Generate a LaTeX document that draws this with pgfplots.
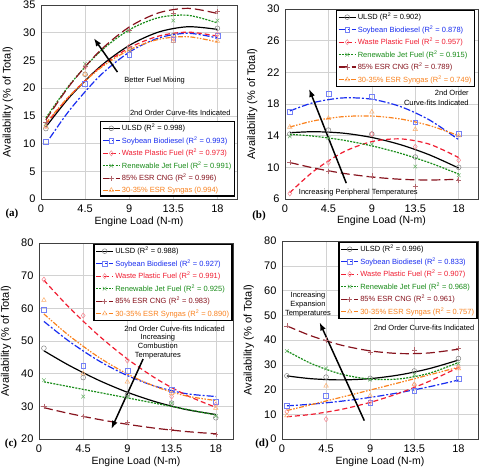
\documentclass[border=0pt]{standalone}
\usepackage{fontspec}
\setmainfont{Liberation Sans}
\newfontfamily\serifb{Liberation Serif}
\usepackage{pgfplots}
\pgfplotsset{compat=1.18}
\usetikzlibrary{arrows.meta}
\definecolor{cBlue}{RGB}{25,45,240}
\definecolor{cRed}{RGB}{240,30,50}
\definecolor{cGreen}{RGB}{25,140,25}
\definecolor{cDark}{RGB}{135,20,30}
\definecolor{cOrange}{RGB}{250,130,30}
\newcommand\both[2]{\tikzset{#1/.style={#2}}\pgfplotsset{#1/.style={#2}}}
\both{s1}{black, line width=1.2pt, solid}
\both{s2}{cBlue, line width=1.2pt, dash pattern=on 7pt off 2pt on 2pt off 2pt}
\both{s3}{cRed, line width=1.2pt, dash pattern=on 5pt off 3pt}
\both{s4}{cGreen, line width=1.2pt, dash pattern=on 2pt off 1.2pt}
\both{s5}{cDark, line width=1.2pt, dash pattern=on 9pt off 4pt}
\both{s6}{cOrange, line width=1.2pt, dash pattern=on 5pt off 1.5pt on 1.5pt off 1.5pt on 1.5pt off 1.5pt}
\both{m1}{mark=o, gray, line width=0.5pt, solid, mark size=2.4pt}
\both{m2}{mark=square, cBlue!60, line width=0.5pt, solid, mark size=2.4pt}
\both{m3}{mark=diamond, cRed!55, line width=0.5pt, solid, mark size=2.6pt}
\both{m4}{mark=x, cGreen!65, line width=0.5pt, solid, mark size=2.6pt}
\both{m5}{mark=+, cDark!65, line width=0.5pt, solid, mark size=2.6pt}
\both{m6}{mark=triangle, cOrange!65, line width=0.5pt, solid, mark size=2.6pt}
\tikzset{ann/.style={font=\fontsize{7.5}{9}\selectfont},
  arr/.style={-{Latex[length=8pt,width=6pt]}, line width=1.5pt, black}}
\pgfplotsset{
  ser/.style 2 args={#1, smooth, legend image code/.code={\draw[#1] (0cm,0cm) -- (0.6cm,0cm); \draw[#2] plot coordinates {(0.3cm,0cm)};}},
  panel/.style={scale only axis, anchor=south west, xmin=0, xmax=20,
    xtick={0,4.5,9,13.5,18},
    grid=major, grid style={gray!35, line width=0.5pt},
    axis line style={black!75, line width=0.6pt},
    major tick length=0pt,
    tick label style={font=\fontsize{11}{12}\selectfont},
    /pgf/number format/assume math mode=true,
    xticklabel style={yshift=-2pt}, yticklabel style={xshift=-2pt},
    xlabel={Engine Load (N-m)}, ylabel={Availability (\% of Total)},
    xlabel style={font=\fontsize{10.5}{12}\selectfont, at={(axis description cs:0.5,-0.115)}, anchor=center},
    ylabel style={font=\fontsize{11}{12}\selectfont, at={(axis description cs:-0.17,0.5)}, anchor=center},
    legend cell align=left,
    legend style={draw=black, line width=1.2pt, fill=white, font=\fontsize{7.5}{8.5}\selectfont, inner xsep=1.5pt, inner ysep=1pt, row sep=1.3pt, nodes={inner xsep=1.5pt, inner ysep=1.5pt}, cells={anchor=west}},
  },
}
\newcommand\Rs{R\textsuperscript{2}}
\begin{document}
\begin{tikzpicture}
\useasboundingbox (0pt,0pt) rectangle (482pt,469pt);
% ---------------- (a)
\begin{axis}[panel, at={(41pt,270pt)}, width=196pt, height=194pt, ymin=0, ymax=35, ytick={0,5,...,35},
  legend style={at={(0.99,0.012)}, anchor=south east}]
\addplot[m1, only marks, forget plot] coordinates {(0.5,12.7)(4.5,22.5)(9,27.2)(13.5,29.5)(18,30.8)};
\addplot[m2, only marks, forget plot] coordinates {(0.5,10.3)(4.5,20.8)(9,26.0)(13.5,28.7)(18,29.5)};
\addplot[m3, only marks, forget plot] coordinates {(0.5,13.2)(4.5,23.8)(9,27.5)(13.5,29.0)(18,29.7)};
\addplot[m4, only marks, forget plot] coordinates {(0.5,13.5)(4.5,24.4)(9,30.3)(13.5,32.2)(18,32.2)};
\addplot[m5, only marks, forget plot] coordinates {(0.5,13.8)(4.5,24.0)(9,30.5)(13.5,33.5)(18,33.8)};
\addplot[m6, only marks, forget plot] coordinates {(0.5,13.0)(4.5,22.5)(9,26.8)(13.5,28.5)(18,28.5)};
\addplot[ser={s1}{m1}] coordinates {(0.5,13.01)(3,18.54)(6,23.84)(9,27.70)(12,30.12)(15,31.08)(18,30.60)};
\addlegendentry{ULSD (\Rs{} = 0.998)}
\addplot[ser={s2}{m2}] coordinates {(0.9,11.0)(3,16.22)(6,22.21)(9,26.48)(12,29.05)(15,29.90)(18,29.05)};
\addlegendentry{\textcolor{cBlue}{Soybean Biodiesel (\Rs{} = 0.993)}}
\addplot[ser={s3}{m3}] coordinates {(0.5,13.49)(3,18.72)(6,23.70)(9,27.26)(12,29.39)(15,30.10)(18,29.39)};
\addlegendentry{\textcolor{cRed}{Waste Plastic Fuel (\Rs{} = 0.973)}}
\addplot[ser={s4}{m4}] coordinates {(0.5,14.62)(3,20.78)(6,26.54)(9,30.52)(12,32.72)(15,33.14)(18,31.77)};
\addlegendentry{\textcolor{cGreen}{Renewable Jet Fuel (\Rs{} = 0.991)}}
\addplot[ser={s5}{m5}] coordinates {(0.5,14.29)(3,20.66)(6,26.72)(9,31.02)(12,33.58)(15,34.40)(18,33.47)};
\addlegendentry{\textcolor{cDark}{85\% ESR CNG (\Rs{} = 0.996)}}
\addplot[ser={s6}{m6}] coordinates {(0.5,13.70)(3,18.77)(6,23.55)(9,26.89)(12,28.80)(15,29.28)(18,28.32)};
\addlegendentry{\textcolor{cOrange}{30-35\% ESR Syngas (0.994)}}
\draw[arr] (axis cs:7.8,22.9) -- (axis cs:5.4,29.0);
\node[ann] at (axis cs:11.6,21.4) {Better Fuel Mixing};
\node[ann, anchor=east] at (axis cs:19.7,15.6) {2nd Order Curve-fits Indicated};
\end{axis}
% ---------------- (b)
\begin{axis}[panel, at={(285pt,270pt)}, width=193pt, height=190pt, ymin=6, ymax=30, ytick={6,10,...,30},
  legend style={at={(0.985,0.995)}, anchor=north east}]
\addplot[m1, only marks, forget plot] coordinates {(0.5,14.2)(4.5,14.7)(9,14.2)(13.5,11.3)(18,10.0)};
\addplot[m2, only marks, forget plot] coordinates {(0.5,17.0)(4.5,19.3)(9,18.9)(13.5,15.7)(18,14.2)};
\addplot[m3, only marks, forget plot] coordinates {(0.5,6.7)(4.5,10.6)(9,14.2)(13.5,12.6)(18,10.9)};
\addplot[m4, only marks, forget plot] coordinates {(0.5,13.9)(4.5,13.7)(9,12.9)(13.5,10.1)(18,9.0)};
\addplot[m5, only marks, forget plot] coordinates {(0.5,10.6)(4.5,9.5)(9,8.9)(13.5,7.6)(18,8.4)};
\addplot[m6, only marks, forget plot] coordinates {(0.5,15.1)(4.5,16.2)(9,17.0)(13.5,14.8)(18,14.0)};
\addplot[ser={s1}{m1}] coordinates {(0.5,14.37)(3,14.50)(6,14.32)(9,13.77)(12,12.85)(15,11.56)(18,9.91)};
\addlegendentry{ULSD (\Rs{} = 0.902)}
\addplot[ser={s2}{m2}] coordinates {(0.5,17.12)(3,18.19)(6,18.77)(9,18.60)(12,17.66)(15,15.96)(18,13.49)};
\addlegendentry{\textcolor{cBlue}{Soybean Biodiesel (\Rs{} = 0.878)}}
\addplot[ser={s3}{m3}] coordinates {(0.5,6.80)(3,9.54)(6,11.90)(9,13.25)(12,13.59)(15,12.91)(18,11.23)};
\addlegendentry{\textcolor{cRed}{Waste Plastic Fuel (\Rs{} = 0.957)}}
\addplot[ser={s4}{m4}] coordinates {(0.5,14.17)(3,13.93)(6,13.44)(9,12.71)(12,11.76)(15,10.57)(18,9.15)};
\addlegendentry{\textcolor{cGreen}{Renewable Jet Fuel (\Rs{} = 0.915)}}
\addplot[ser={s5}{m5}] coordinates {(0.5,10.61)(3,9.91)(6,9.25)(9,8.78)(12,8.49)(15,8.40)(18,8.49)};
\addlegendentry{\textcolor{cDark}{85\% ESR CNG (\Rs{} = 0.789)}}
\addplot[ser={s6}{m6}] coordinates {(0.5,15.09)(3,15.88)(6,16.40)(9,16.48)(12,16.10)(15,15.27)(18,14.00)};
\addlegendentry{\textcolor{cOrange}{30-35\% ESR Syngas (\Rs{} = 0.749)}}
\draw[arr] (axis cs:6.35,8.0) -- (axis cs:2.5,19.9);
\node[ann] at (axis cs:7.6,6.85) {Increasing Peripheral Temperatures};
\node[ann, align=right, anchor=east, font=\fontsize{7.5}{10}\selectfont] at (axis cs:19.4,18.8) {2nd Order\\Curve-fits Indicated};
\end{axis}
% ---------------- (c)
\begin{axis}[panel, at={(39pt,30pt)}, width=194pt, height=196pt, xmax=19.75, ymin=20, ymax=80, ytick={20,30,...,80},
  legend style={at={(0.998,0.995)}, anchor=north east}]
\addplot[m1, only marks, forget plot] coordinates {(0.5,47.8)(4.5,38.8)(9,33.5)(13.5,31.0)(18,26.5)};
\addplot[m2, only marks, forget plot] coordinates {(0.5,59.5)(4.5,42.5)(9,40.8)(13.5,35.0)(18,31.5)};
\addplot[m3, only marks, forget plot] coordinates {(0.5,68.8)(4.5,57.8)(9,44.0)(13.5,33.0)(18,30.5)};
\addplot[m4, only marks, forget plot] coordinates {(0.5,38.0)(4.5,33.0)(9,33.0)(13.5,31.0)(18,27.0)};
\addplot[m5, only marks, forget plot] coordinates {(0.5,30.0)(4.5,27.0)(9,25.0)(13.5,23.0)(18,21.5)};
\addplot[m6, only marks, forget plot] coordinates {(0.5,62.5)(4.5,40.0)(9,37.5)(13.5,34.0)(18,29.5)};
\addplot[ser={s1}{m1}] coordinates {(0.5,47.00)(3,42.64)(6,38.09)(9,34.30)(12,31.28)(15,29.01)(18,27.50)};
\addlegendentry{ULSD (\Rs{} = 0.988)}
\addplot[ser={s2}{m2}] coordinates {(0.5,56.00)(3,50.06)(6,44.09)(9,39.41)(12,36.00)(15,33.87)(18,33.02)};
\addlegendentry{\textcolor{cBlue}{Soybean Biodiesel (\Rs{} = 0.927)}}
\addplot[ser={s3}{m3}] coordinates {(0.5,68.60)(3,60.49)(6,51.88)(9,44.50)(12,38.34)(15,33.41)(18,29.70)};
\addlegendentry{\textcolor{cRed}{Waste Plastic Fuel (\Rs{} = 0.991)}}
\addplot[ser={s4}{m4}] coordinates {(0.5,37.51)(3,36.06)(6,34.32)(9,32.58)(12,30.84)(15,29.10)(18,27.36)};
\addlegendentry{\textcolor{cGreen}{Renewable Jet Fuel (\Rs{} = 0.925)}}
\addplot[ser={s5}{m5}] coordinates {(0.5,29.60)(3,27.86)(6,26.04)(9,24.50)(12,23.24)(15,22.28)(18,21.59)};
\addlegendentry{\textcolor{cDark}{85\% ESR CNG (\Rs{} = 0.983)}}
\addplot[ser={s6}{m6}] coordinates {(0.5,58.29)(3,51.80)(6,45.19)(9,39.89)(12,35.89)(15,33.18)(18,31.78)};
\addlegendentry{\textcolor{cOrange}{30-35\% ESR Syngas (\Rs{} = 0.890)}}
\draw[arr] (axis cs:10.6,44.5) -- (axis cs:7.37,23.1);
\node[ann, align=center] at (axis cs:12.1,48.3) {Increasing\\Combustion\\Temperatures};
\node[ann] at (axis cs:13.8,53.8) {2nd Order Curve-fits Indicated};
\end{axis}
% ---------------- (d)
\begin{axis}[panel, at={(282pt,30pt)}, width=196pt, height=198pt, ymin=0, ymax=80, ytick={0,10,...,80},
  legend style={at={(0.998,0.995)}, anchor=north east}]
\addplot[m1, only marks, forget plot] coordinates {(0.5,25.5)(4.5,25.0)(9,24.5)(13.5,27.5)(18,32.5)};
\addplot[m2, only marks, forget plot] coordinates {(0.5,13.5)(4.5,17.5)(9,14.5)(13.5,19.5)(18,24.5)};
\addplot[m3, only marks, forget plot] coordinates {(0.5,11.0)(4.5,8.0)(9,15.0)(13.5,22.0)(18,29.0)};
\addplot[m4, only marks, forget plot] coordinates {(0.5,35.5)(4.5,28.5)(9,24.0)(13.5,26.0)(18,30.5)};
\addplot[m5, only marks, forget plot] coordinates {(0.5,45.7)(4.5,40.0)(9,35.0)(13.5,36.0)(18,36.5)};
\addplot[m6, only marks, forget plot] coordinates {(0.5,9.5)(4.5,21.5)(9,17.5)(13.5,22.0)(18,28.5)};
\addplot[ser={s1}{m1}] coordinates {(0.5,25.50)(3,24.35)(6,23.88)(9,24.40)(12,25.91)(15,28.41)(18,31.89)};
\addlegendentry{ULSD (\Rs{} = 0.996)}
\addplot[ser={s2}{m2}] coordinates {(0.5,13.40)(3,14.08)(6,15.25)(9,16.80)(12,18.75)(15,21.08)(18,23.81)};
\addlegendentry{\textcolor{cBlue}{Soybean Biodiesel (\Rs{} = 0.833)}}
\addplot[ser={s3}{m3}] coordinates {(0.5,9.00)(3,9.95)(6,11.92)(9,14.80)(12,18.58)(15,23.28)(18,28.88)};
\addlegendentry{\textcolor{cRed}{Waste Plastic Fuel (\Rs{} = 0.907)}}
\addplot[ser={s4}{m4}] coordinates {(0.5,35.60)(3,30.46)(6,26.26)(9,24.20)(12,24.29)(15,26.52)(18,30.90)};
\addlegendentry{\textcolor{cGreen}{Renewable Jet Fuel (\Rs{} = 0.968)}}
\addplot[ser={s5}{m5}] coordinates {(0.5,45.70)(3,41.65)(6,37.97)(9,35.60)(12,34.53)(15,34.76)(18,36.30)};
\addlegendentry{\textcolor{cDark}{85\% ESR CNG (\Rs{} = 0.961)}}
\addplot[ser={s6}{m6}] coordinates {(0.5,11.50)(3,13.90)(6,16.82)(9,19.79)(12,22.81)(15,25.88)(18,28.99)};
\addlegendentry{\textcolor{cOrange}{30-35\% ESR Syngas (\Rs{} = 0.757)}}
\draw[arr] (axis cs:8.4,7.4) -- (axis cs:3.84,47.1);
\node[ann, align=center] at (axis cs:2.65,54.2) {Increasing\\Expansion\\Temperatures};
\node[ann] at (axis cs:14.5,44.8) {2nd Order Curve-fits Indicated};
\end{axis}
\node[font=\serifb\bfseries\fontsize{11}{12}\selectfont] at (12pt,255pt) {(a)};
\node[font=\serifb\bfseries\fontsize{11}{12}\selectfont] at (259pt,253pt) {(b)};
\node[font=\serifb\bfseries\fontsize{11}{12}\selectfont] at (11pt,25pt) {(c)};
\node[font=\serifb\bfseries\fontsize{11}{12}\selectfont] at (262pt,25pt) {(d)};
\end{tikzpicture}
\end{document}
